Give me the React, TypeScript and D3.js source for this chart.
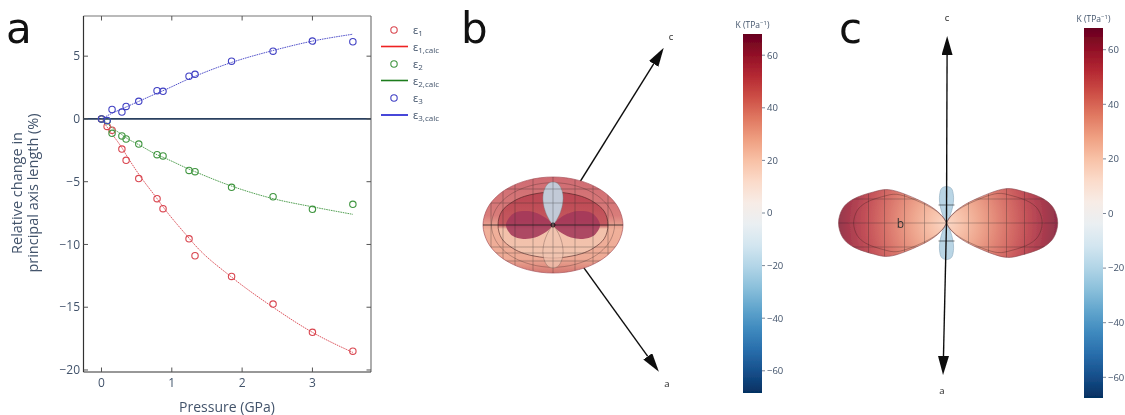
import * as d3 from "d3";

// panel a: strain vs pressure
const pressure = [0, 0.08, 0.15, 0.29, 0.35, 0.53, 0.79, 0.875, 1.245, 1.33, 1.85, 2.44, 3.0, 3.575];
const eps1 = [0, -0.6, -0.9, -2.4, -3.3, -4.75, -6.35, -7.15, -9.55, -10.9, -12.55, -14.75, -17, -18.5];
const eps2 = [0, -0.15, -1.15, -1.35, -1.6, -2.0, -2.85, -2.95, -4.1, -4.2, -5.45, -6.2, -7.2, -6.8];
const eps3 = [0, -0.13, 0.75, 0.55, 1.0, 1.4, 2.25, 2.2, 3.4, 3.55, 4.6, 5.4, 6.2, 6.15];
const eps1Calc = [0, -0.65, -1.2, -2.3, -2.85, -4.4, -6.35, -7.0, -9.5, -10.05, -12.6, -15.0, -17.0, -18.6];
const eps2Calc = [0, -0.35, -0.7, -1.25, -1.5, -2.05, -2.85, -3.05, -4.0, -4.2, -5.35, -6.35, -7.0, -7.6];
const eps3Calc = [0, 0.25, 0.45, 0.8, 0.95, 1.4, 2.05, 2.25, 3.2, 3.4, 4.5, 5.45, 6.2, 6.75];
const xTicks = [0, 1, 2, 3];
const yTicks = [5, 0, -5, -10, -15, -20];
const colorTicks = [60, 40, 20, 0, -20, -40, -60];

// panels b and c: K surfaces as polar profiles, angle from the axis in degrees, K in TPa-1
const bOuterAngles = [0, 15, 30, 45, 60, 75, 90];
const bOuterK = [48, 48.9, 51.5, 56, 61.9, 67.5, 70];
const bInnerK = [33, 33.7, 36, 40.5, 46.5, 53, 55];
const bLobeAngles = [25, 35, 45, 55, 65, 75, 90];
const bLobeK = [0, 2, 10, 22, 33, 42, 47];
const bNegAngles = [0, 6, 12, 18, 24, 30, 36, 42];
const bNegK = [43, 42, 38, 32, 24, 15, 6, 0];
const cLobeAngles = [18, 30, 40, 50, 60, 67, 76, 82, 90];
const cLobeK = [0, 4, 11, 22, 42, 50, 61, 66, 68];
const cNegAngles = [0, 8, 14, 20, 26, 30];
const cNegK = [23, 22, 18, 12, 5, 0];
const bWireX = [-62, -50, -38, -20, 0, 22, 40, 55];
const bWireY = [-36, -22, 22, 28, 36];
const cWireX = [-78, -62, -42, -22, 22, 42, 60, 78];
const cWireY = [-24, 0, 24];

const INK = "#42536b";
const W = 1125, H = 415;
const margin = { left: 83.5, right: 371, top: 16, bottom: 372 };

const x = d3.scaleLinear().domain([-0.256, 3.833]).range([margin.left, margin.right]);
const y = d3.scaleLinear().domain([8.2, -20.16]).range([margin.top, margin.bottom]);
const kColor = d3.scaleLinear<number, number>().domain([-68, 68]).range([0, 1]);
const colorOf = (k: number) => d3.interpolateRdBu(1 - kColor(k));

// mirror the first quadrant profile into a closed outline
function closedRadial(angles: number[], ks: number[], r: d3.ScaleLinear<number, number>, rightScale = 1) {
  const pts: [number, number][] = [];
  const rad = (a: number) => (a * Math.PI) / 180;
  angles.forEach((a, i) => pts.push([rad(a), r(ks[i]) * rightScale]));
  for (let i = angles.length - 1; i >= 0; i--) {
    if (angles[i] < 90) pts.push([rad(180 - angles[i]), r(ks[i]) * rightScale]);
  }
  for (let i = 0; i < angles.length; i++) {
    if (angles[i] > 0) pts.push([rad(180 + angles[i]), r(ks[i])]);
  }
  for (let i = angles.length - 1; i >= 0; i--) {
    if (angles[i] > 0 && angles[i] < 90) pts.push([rad(360 - angles[i]), r(ks[i])]);
  }
  return d3.lineRadial().curve(d3.curveCatmullRomClosed)(pts) || "";
}

function singleLobe(angles: number[], ks: number[], r: d3.ScaleLinear<number, number>) {
  const rad = (a: number) => (a * Math.PI) / 180;
  const pts: [number, number][] = angles.map((a, i) => [rad(a), r(ks[i])]);
  for (let i = angles.length - 1; i > 0; i--) pts.push([rad(-angles[i]), r(ks[i])]);
  return d3.lineRadial().curve(d3.curveCatmullRomClosed)(pts) || "";
}

function Arrow({ cx, cy, angle, len }: { cx: number; cy: number; angle: number; len: number }) {
  const [dx, dy] = d3.pointRadial((angle * Math.PI) / 180, len - 19);
  return <line x1={cx} y1={cy} x2={cx + dx} y2={cy + dy} stroke="#111" strokeWidth={1.4} markerEnd="url(#head)" />;
}

function ColorBar({ id, x0, top, bottom, zero, step }: { id: string; x0: number; top: number; bottom: number; zero: number; step: number }) {
  const scale = d3.scaleLinear().domain([0, 60]).range([zero, zero - step * 60]);
  const stops = d3.range(-68, 69, 8);
  return (
    <g>
      <defs>
        <linearGradient id={id} x1="0" y1="1" x2="0" y2="0">
          {stops.map((k) => (
            <stop key={k} offset={kColor(k)} stopColor={colorOf(k)} />
          ))}
        </linearGradient>
      </defs>
      <rect x={x0} y={top} width={19} height={bottom - top} fill={`url(#${id})`} />
      {colorTicks.map((t) => (
        <g key={t} transform={`translate(${x0 + 19},${scale(t)})`}>
          <line x2={3} stroke={INK} strokeWidth={0.7} />
          <text x={5} dy="0.35em" fontSize={9.5} fill={INK} fontFamily="Open Sans">
            {t < 0 ? `\u2212${-t}` : t}
          </text>
        </g>
      ))}
      <text x={x0 + 9.5} y={top - 6} textAnchor="middle" fontSize={8.5} fill={INK} fontFamily="Open Sans">
        K (TPa<tspan dy={-3} fontSize={6}>{"\u22121"}</tspan><tspan dy={3}>)</tspan>
      </text>
    </g>
  );
}

function Wire({ id, xs, ys, half, halfY, opacity }: { id: string; xs: number[]; ys: number[]; half: number; halfY: number; opacity: number }) {
  return (
    <g clipPath={`url(#${id})`} stroke="#222" strokeWidth={0.6} opacity={opacity}>
      {xs.map((v) => (
        <line key={`x${v}`} x1={v} x2={v} y1={-halfY} y2={halfY} />
      ))}
      {ys.map((v) => (
        <line key={`y${v}`} x1={-half} x2={half} y1={v} y2={v} />
      ))}
    </g>
  );
}

function PanelB() {
  const cx = 553, cy = 225;
  const rx = d3.scaleLinear().domain([0, 70]).range([0, 70]);
  const outer = closedRadial(bOuterAngles, bOuterK, rx);
  const inner = closedRadial(bOuterAngles, bInnerK, rx);
  const mid = closedRadial(bOuterAngles, bOuterK.map((k) => k * 0.88), rx);
  const lobes = closedRadial(bLobeAngles, bLobeK, rx);
  const neg = singleLobe(bNegAngles, bNegK, rx);
  return (
    <g>
      <Arrow cx={cx} cy={cy} angle={32} len={209} />
      <Arrow cx={cx} cy={cy} angle={144.2} len={181} />
      <g transform={`translate(${cx},${cy})`}>
        <defs>
          <clipPath id="clipB"><path d={outer} /></clipPath>
          <linearGradient id="bOuterFill" x1="0" y1="0" x2="0" y2="1">
            <stop offset="0" stopColor="#cf6b72" />
            <stop offset="0.4" stopColor="#d97c7a" />
            <stop offset="0.55" stopColor="#f0b09a" />
            <stop offset="0.85" stopColor="#eeaa95" />
            <stop offset="1" stopColor="#d4766f" />
          </linearGradient>
          <linearGradient id="bInnerFill" x1="0" y1="0" x2="0" y2="1">
            <stop offset="0" stopColor="#bb4552" />
            <stop offset="0.5" stopColor="#c65a5f" />
            <stop offset="0.56" stopColor="#f3c1aa" />
            <stop offset="1" stopColor="#f1c3ae" />
          </linearGradient>
        </defs>
        <path d={outer} fill="url(#bOuterFill)" stroke="#a9545c" strokeWidth={0.7} />
        <path d={mid} fill="none" stroke="#3a2020" strokeWidth={0.5} opacity={0.6} />
        <path d={inner} fill="url(#bInnerFill)" stroke="#4a2020" strokeWidth={0.6} />
        <path d={lobes} fill="#a3385a" fillOpacity={0.88} />
        <path d={neg} fill="#c2cad7" stroke="#777" strokeWidth={0.4} />
        <path d={neg} transform="rotate(180)" fill="#f0c4b0" fillOpacity={0.75} stroke="#8a6a60" strokeWidth={0.5} />
        <Wire id="clipB" xs={bWireX} ys={bWireY} half={70} halfY={48} opacity={0.5} />
        <line x1={-70} x2={70} y1={0} y2={0} stroke="#222" strokeWidth={0.8} />
        <circle r={2} fill="none" stroke="#111" strokeWidth={0.9} />
      </g>
      <text x={671} y={40} fontSize={9.5} fill="#222" textAnchor="middle" fontFamily="Open Sans">c</text>
      <text x={667} y={387} fontSize={9.5} fill="#222" textAnchor="middle" fontFamily="Open Sans">a</text>
    </g>
  );
}

function PanelC() {
  const cx = 946.5, cy = 223;
  const r = d3.scaleLinear().domain([0, 68]).range([0, 108]);
  const peanut = closedRadial(cLobeAngles, cLobeK, r, 1.03);
  const inner = closedRadial(cLobeAngles, cLobeK.map((k) => k * 0.86), r, 1.03);
  const neg = singleLobe(cNegAngles, cNegK, r);
  const fillStops = [0, 10, 20, 30, 40, 50, 60, 68];
  return (
    <g>
      <g transform={`translate(${cx},${cy})`}>
        <defs>
          <clipPath id="clipC"><path d={peanut} /></clipPath>
          <radialGradient id="cFill" gradientUnits="userSpaceOnUse" cx={0} cy={0} r={111}>
            {fillStops.map((k) => (
              <stop key={k} offset={k / 68} stopColor={colorOf(16 + k * 0.72)} />
            ))}
          </radialGradient>
        </defs>
        <path d={neg} fill="#b9d5e5" stroke="#7d9db2" strokeWidth={0.5} />
        <path d={neg} transform="rotate(180)" fill="#b9d5e5" stroke="#7d9db2" strokeWidth={0.5} />
        <line x1={-8} x2={8} y1={-18} y2={-18} stroke="#222" strokeWidth={0.6} />
        <line x1={-8} x2={8} y1={18} y2={18} stroke="#222" strokeWidth={0.6} />
        <path d={peanut} fill="url(#cFill)" fillOpacity={0.82} stroke="#8a4a50" strokeWidth={0.6} />
        <path d={inner} fill="none" stroke="#2a1515" strokeWidth={0.5} opacity={0.6} />
        <Wire id="clipC" xs={cWireX} ys={cWireY} half={112} halfY={40} opacity={0.5} />
        <text x={-46} y={5} fontSize={12} fill="#333" textAnchor="middle" fontFamily="Open Sans">b</text>
      </g>
      <Arrow cx={cx} cy={cy} angle={0.2} len={187} />
      <Arrow cx={cx} cy={cy} angle={181.3} len={152} />
      <text x={947} y={21} fontSize={9.5} fill="#222" textAnchor="middle" fontFamily="Open Sans">c</text>
      <text x={942} y={394} fontSize={9.5} fill="#222" textAnchor="middle" fontFamily="Open Sans">a</text>
    </g>
  );
}

function Series({ obs, calc, color }: { obs: number[]; calc: number[]; color: string }) {
  const line = d3.line<number>().x((_, i) => x(pressure[i])).y((d) => y(d)).curve(d3.curveMonotoneX);
  return (
    <g>
      <path d={line(calc) || ""} fill="none" stroke={color} strokeWidth={0.9} strokeDasharray="1.6 0.8" />
      {obs.map((v, i) => (
        <circle key={i} cx={x(pressure[i])} cy={y(v)} r={3.2} fill="none" stroke={color} strokeWidth={1.1} />
      ))}
    </g>
  );
}

const legendRows = [
  { sub: "1", calc: "1,calc", marker: "#d9454f", line: "#ee2020", my: 30, ly: 46.5 },
  { sub: "2", calc: "2,calc", marker: "#3f953f", line: "#1c7c1c", my: 64, ly: 80.5 },
  { sub: "3", calc: "3,calc", marker: "#4040c4", line: "#1c1cd0", my: 98, ly: 115 },
];

export default function App() {
  return (
    <svg width={W} height={H} style={{ position: "absolute", left: 0, top: 0, background: "#fff" }}>
      <defs>
        <marker id="head" viewBox="0 0 19 11" refX={0} refY={5.5} markerWidth={19} markerHeight={11} markerUnits="userSpaceOnUse" orient="auto">
          <path d="M0,0L19,5.5L0,11Z" fill="#111" />
        </marker>
        <filter id="soft" x="-2%" y="-2%" width="104%" height="104%">
          <feGaussianBlur stdDeviation={0.35} />
        </filter>
      </defs>
      <g filter="url(#soft)">
        {/* frame */}
        <line x1={margin.left} x2={margin.right} y1={margin.top} y2={margin.top} stroke="#777" strokeWidth={1.2} />
        <line x1={margin.right} x2={margin.right} y1={margin.top} y2={margin.bottom} stroke="#777" strokeWidth={1.2} />
        <line x1={margin.left} x2={margin.right} y1={margin.bottom} y2={margin.bottom} stroke="#333" strokeWidth={1.2} />
        <line x1={margin.left} x2={margin.left} y1={margin.top} y2={margin.bottom} stroke="#333" strokeWidth={1.2} />
        <line x1={margin.left} x2={margin.right} y1={y(0)} y2={y(0)} stroke="#2a3f5f" strokeWidth={1.8} />
        {xTicks.map((t) => (
          <g key={t} stroke="#555" strokeWidth={1}>
            <line x1={x(t)} x2={x(t)} y1={margin.bottom} y2={margin.bottom - 4.5} />
            <line x1={x(t)} x2={x(t)} y1={margin.top} y2={margin.top + 4.5} />
          </g>
        ))}
        {yTicks.map((t) => (
          <g key={t} stroke="#555" strokeWidth={1}>
            <line x1={margin.left} x2={margin.left + 4.5} y1={y(t)} y2={y(t)} />
            <line x1={margin.right} x2={margin.right - 4.5} y1={y(t)} y2={y(t)} />
          </g>
        ))}
        {xTicks.map((t) => (
          <text key={t} x={x(t)} y={387} textAnchor="middle" fontSize={12} fill={INK} fontFamily="Open Sans">{t}</text>
        ))}
        {yTicks.map((t) => (
          <text key={t} x={80} y={y(t)} dy="0.35em" textAnchor="end" fontSize={12} fill={INK} fontFamily="Open Sans">
            {t < 0 ? `\u2212${-t}` : t}
          </text>
        ))}
        <text x={227} y={412} textAnchor="middle" fontSize={14} fill={INK} fontFamily="Open Sans">Pressure (GPa)</text>
        <text transform="translate(22,193) rotate(-90)" textAnchor="middle" fontSize={14.5} fill={INK} fontFamily="Open Sans">Relative change in</text>
        <text transform="translate(38,193) rotate(-90)" textAnchor="middle" fontSize={14.5} fill={INK} fontFamily="Open Sans">principal axis length (%)</text>

        <Series obs={eps1} calc={eps1Calc} color="#d9454f" />
        <Series obs={eps2} calc={eps2Calc} color="#3f953f" />
        <Series obs={eps3} calc={eps3Calc} color="#4040c4" />

        {legendRows.map((row) => (
          <g key={row.sub} fontFamily="Open Sans" fill={INK}>
            <circle cx={394} cy={row.my} r={3.2} fill="none" stroke={row.marker} strokeWidth={1.1} />
            <text x={413} y={row.my + 4} fontSize={11}>{"\u03b5"}<tspan dy={2} fontSize={8}>{row.sub}</tspan></text>
            <line x1={381} x2={408} y1={row.ly} y2={row.ly} stroke={row.line} strokeWidth={1.6} />
            <text x={413} y={row.ly + 4} fontSize={11}>{"\u03b5"}<tspan dy={2} fontSize={8}>{row.calc}</tspan></text>
          </g>
        ))}

        <PanelB />
        <PanelC />
        <ColorBar id="barB" x0={743} top={34} bottom={393} zero={213} step={2.63} />
        <ColorBar id="barC" x0={1084} top={28} bottom={398} zero={213.5} step={2.73} />
      </g>
      <text x={6} y={43} fontSize={42} fill="#111" fontFamily="DejaVu Sans">a</text>
      <text x={461} y={43} fontSize={42} fill="#111" fontFamily="DejaVu Sans">b</text>
      <text x={839} y={43} fontSize={42} fill="#111" fontFamily="DejaVu Sans">c</text>
    </svg>
  );
}
